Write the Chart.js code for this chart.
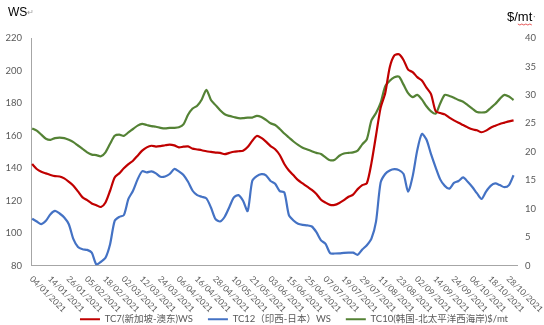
<!DOCTYPE html>
<html>
<head>
<meta charset="utf-8">
<script src="https://cdn.jsdelivr.net/npm/chart.js@4.4.1/dist/chart.umd.min.js"></script>
<style>
  html, body { margin: 0; padding: 0; background: #fff; }
</style>
</head>
<body>
<canvas id="freight" width="544" height="325"></canvas>
<script>
// one sample every 2 trading days, day 0 = 04/01/2021
const STEP = 2;
const LAST_DAY = 211;
const LABEL_EVERY = 8;

const dateLabels = [
  '04/01/2021','14/01/2021','26/01/2021','05/02/2021','18/02/2021','02/03/2021',
  '12/03/2021','24/03/2021','06/04/2021','16/04/2021','28/04/2021','10/05/2021',
  '21/05/2021','03/06/2021','15/06/2021','25/06/2021','07/07/2021','19/07/2021',
  '29/07/2021','11/08/2021','23/08/2021','02/09/2021','14/09/2021','24/09/2021',
  '06/10/2021','18/10/2021','28/10/2021'
];

// TC7 新加坡-澳东 (WS)
const tc7 = [
  142.4,139.4,137.7,136.7,135.7,135.0,134.8,133.6,131.5,129.1,
  125.6,121.9,120.2,118.2,117.1,116.0,118.8,126.0,134.2,136.7,
  139.8,142.4,144.5,147.6,150.7,152.7,153.7,153.2,153.5,154.0,
  154.4,153.9,152.7,153.1,153.3,151.9,151.4,150.9,150.3,149.9,
  149.5,149.3,148.5,149.3,150.0,150.3,150.6,152.9,156.7,159.7,
  158.5,156.2,153.5,151.5,148.0,142.5,138.5,135.5,132.5,130.5,
  128.5,126.5,124.0,120.5,118.7,117.3,117.3,118.5,120.2,122.3,
  123.6,127.0,129.5,130.6,143.0,160.0,177.0,186.0,202.0,209.3,
  210.0,206.5,200.5,199.0,195.9,193.8,189.5,185.5,175.0,173.8,
  173.0,171.0,169.3,167.8,166.4,165.0,163.8,163.2,162.0,163.0,
  164.8,166.0,167.1,167.9,168.7,169.3
];

// TC12 印西-日本 (WS)
const tc12 = [
  108.8,107.1,105.5,107.5,111.6,113.6,112.0,109.5,105.4,96.2,
  91.4,90.0,89.6,87.9,80.7,82.3,84.8,93.1,107.5,109.9,
  111.0,121.0,126.0,133.0,138.0,137.3,137.9,136.7,134.6,134.8,
  136.3,139.4,137.9,135.7,131.5,126.0,123.3,122.3,121.3,115.7,
  108.5,107.1,110.0,115.9,121.9,123.3,119.8,113.5,132.0,135.0,
  136.2,135.5,132.0,130.3,125.8,125.0,111.0,107.7,105.7,105.0,
  104.7,104.0,100.5,95.5,93.3,87.5,87.4,87.5,87.8,87.9,
  87.9,86.6,89.8,92.5,96.5,107.0,131.0,136.3,138.5,139.3,
  138.7,136.4,125.5,135.0,151.0,161.0,157.5,148.5,140.4,133.0,
  129.0,127.3,130.8,132.0,134.2,131.5,128.3,124.5,121.0,125.5,
  129.0,130.5,129.5,128.2,129.5,135.5
];

// TC10 韩国-北太平洋西海岸 ($/mt, right axis)
const tc10 = [
  24.1,23.7,23.0,22.3,22.1,22.4,22.5,22.4,22.1,21.7,
  21.1,20.5,19.9,19.5,19.4,19.2,19.9,21.4,22.8,23.0,
  22.8,23.4,24.0,24.6,24.9,24.7,24.5,24.4,24.2,24.1,
  24.2,24.2,24.3,24.8,26.5,27.6,28.1,29.2,30.9,29.1,
  28.2,27.3,26.6,26.3,26.1,25.9,25.9,26.0,26.0,26.3,
  26.1,25.6,25.0,24.7,24.0,23.2,22.5,21.8,21.2,20.7,
  20.4,20.1,19.8,19.6,19.0,18.5,18.6,19.3,19.7,19.8,
  19.9,20.2,21.3,22.2,25.5,26.8,28.6,31.5,32.5,33.1,
  33.2,31.8,30.3,29.6,30.0,29.2,28.0,27.1,26.7,28.5,
  30.0,29.8,29.5,29.1,28.8,28.2,27.6,27.0,26.9,27.0,
  27.7,28.4,29.3,30.0,29.7,29.1
];

const RED = '#C00000', BLUE = '#4472C4', GREEN = '#548235';
const TICK_COLOR = '#595959', AXIS_COLOR = '#A6A6A6';
const FONT = 'Lato, "Noto Sans CJK SC", sans-serif';

const toPoints = arr => arr.map((v, k) => ({ x: k * STEP, y: v }));

function series(label, data, color, axis) {
  return {
    label, data: toPoints(data), yAxisID: axis,
    borderColor: color, backgroundColor: color,
    borderWidth: 2.2, pointRadius: 0, tension: 0.25, fill: false
  };
}

// rotated date labels under the x axis + the two unit captions
const captions = {
  id: 'captions',
  afterLayout(chart) {
    // legend row sits right of centre, close to the bottom edge
    const lg = chart.legend;
    lg.left += 22; lg.right += 22;
    lg.top += 9; lg.bottom += 9;
  },
  afterDraw(chart) {
    const { ctx, chartArea, scales: { x } } = chart;
    ctx.save();
    ctx.fillStyle = TICK_COLOR;
    ctx.font = '8.5px ' + FONT;
    ctx.textAlign = 'left';
    ctx.textBaseline = 'middle';
    x.ticks.forEach((t, k) => {
      const px = x.getPixelForValue(t.value);
      ctx.save();
      ctx.translate(px - 1, chartArea.bottom + 12);
      ctx.rotate(Math.PI / 4);
      ctx.fillText(dateLabels[k], 0, 0);
      ctx.restore();
    });

    ctx.fillStyle = '#000';
    ctx.textBaseline = 'alphabetic';
    ctx.font = '12px "Liberation Sans", sans-serif';
    ctx.fillText('WS', 8, 16);
    const wsW = ctx.measureText('WS').width;
    ctx.fillStyle = '#9a9a9a';
    ctx.font = '8px "DejaVu Sans", sans-serif';
    ctx.fillText('↵', 8 + wsW, 15);

    ctx.fillStyle = '#000';
    ctx.font = '13px "Liberation Sans", sans-serif';
    ctx.fillText('$/mt', 507, 21);
    const dW = ctx.measureText('$/').width;
    const mtW = ctx.measureText('mt').width;
    // spell-check squiggle under "mt"
    ctx.strokeStyle = '#E03030';
    ctx.lineWidth = 0.8;
    ctx.beginPath();
    for (let sx = 0; sx <= mtW; sx += 2) {
      const yy = 24 + ((sx / 2) % 2 ? 1 : 0);
      if (sx === 0) ctx.moveTo(507 + dW + sx, yy); else ctx.lineTo(507 + dW + sx, yy);
    }
    ctx.stroke();
    ctx.fillStyle = '#9a9a9a';
    ctx.fillRect(507 + dW + mtW + 1.5, 16, 1.2, 1.2);
    ctx.restore();
  }
};

new Chart(document.getElementById('freight'), {
  type: 'line',
  data: {
    datasets: [
      series('TC7(新加坡-澳东)WS', tc7, RED, 'y'),
      series('TC12（印西-日本）WS', tc12, BLUE, 'y'),
      series('TC10(韩国-北太平洋西海岸)$/mt', tc10, GREEN, 'y2')
    ]
  },
  options: {
    responsive: false,
    devicePixelRatio: 1,
    animation: false,
    layout: { padding: { top: 38, left: 0, right: 0, bottom: 0 } },
    plugins: {
      tooltip: { enabled: false },
      legend: {
        position: 'bottom',
        labels: {
          color: TICK_COLOR,
          font: { size: 9.5, family: FONT },
          boxWidth: 20, boxHeight: 2, padding: 15,
          generateLabels: c => Chart.defaults.plugins.legend.labels.generateLabels(c)
            .map(l => ({ ...l, lineWidth: 0 }))
        }
      }
    },
    scales: {
      x: {
        type: 'linear', min: -0.5, max: LAST_DAY + 0.5,
        grid: { display: false, drawTicks: false },
        border: { color: AXIS_COLOR, width: 1 },
        ticks: { display: false },
        afterBuildTicks: s => { s.ticks = dateLabels.map((_, k) => ({ value: k * LABEL_EVERY })); },
        afterFit: s => { s.height = 25; }
      },
      y: {
        position: 'left', min: 80, max: 220,
        grid: { display: false, drawTicks: false },
        border: { color: AXIS_COLOR, width: 1 },
        ticks: { stepSize: 20, color: TICK_COLOR, font: { size: 9.5, family: FONT }, padding: 9 },
        afterFit: s => { s.width = 31; }
      },
      y2: {
        position: 'right', min: 0, max: 40,
        grid: { display: false, drawTicks: false },
        border: { display: false },
        ticks: { stepSize: 5, color: TICK_COLOR, font: { size: 9.5, family: FONT }, padding: 8 },
        afterFit: s => { s.width = 27; }
      }
    }
  },
  plugins: [captions]
});
</script>
</body>
</html>
